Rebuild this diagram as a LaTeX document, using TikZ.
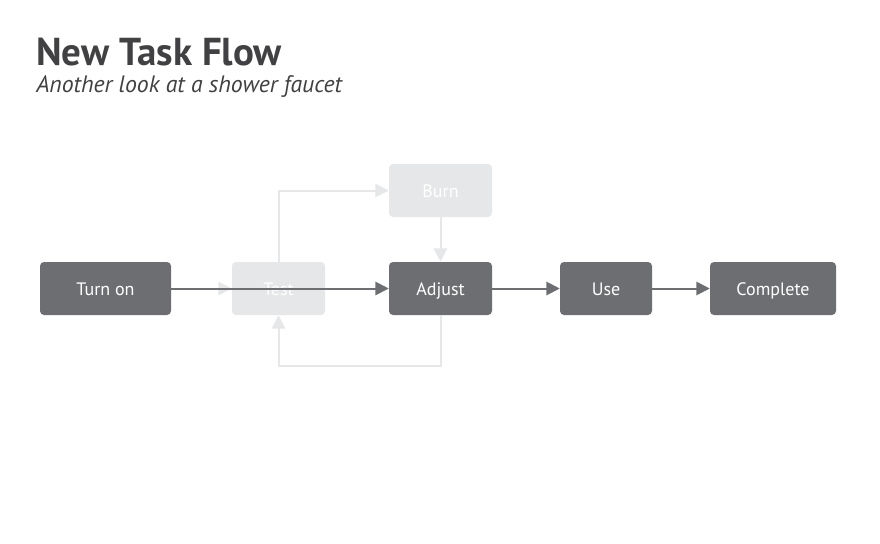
\documentclass[tikz,border=0pt]{standalone}
\usepackage{fontspec}
\setmainfont{PT Sans}
\usetikzlibrary{arrows.meta}
\definecolor{boxdark}{HTML}{6D6E71}
\definecolor{boxlight}{HTML}{E6E7E8}
\definecolor{titlegray}{HTML}{414042}

\begin{document}
\begin{tikzpicture}[x=0.75pt,y=-0.75pt,
	box/.style={rounded corners=3pt, minimum height=39.75pt, inner sep=0pt, text height=11.5pt, text depth=1.75pt, text=white, font=\fontsize{13.5}{16}\selectfont},
	dark/.style={box, fill=boxdark},
	light/.style={box, fill=boxlight},
	darkline/.style={line width=1.5pt, boxdark, -{Triangle[length=10pt,width=10pt]}},
	lightline/.style={line width=1.5pt, boxlight, -{Triangle[length=10pt,width=10pt]}}]
	\useasboundingbox (0,0) rectangle (880,543);
	% heading
	\node[anchor=base west, inner sep=0pt, text=titlegray] (title) at (36,65)
		{\fontsize{29.2}{33}\selectfont\bfseries New Task Flow};
	\node[anchor=base west, inner sep=0pt, text=titlegray] (subtitle) at (36,92)
		{\fontsize{17.8}{21}\selectfont\itshape Another look at a shower faucet};
	% the faded loop
	\node[light, minimum width=69.75pt] (test) at (278.5,288.5) {Test};
	\node[light, minimum width=77.25pt] (burn) at (440.5,190.5) {Burn};
	\coordinate (lower) at (440.5,366);
	\coordinate (lowerleft) at (278.5,366);
	% the steps
	\node[dark, minimum width=98.25pt] (turnon) at (105.5,288.5) {Turn on};
	\node[dark, minimum width=77.25pt] (adjust) at (440.5,288.5) {Adjust};
	\node[dark, minimum width=69pt] (use) at (606,288.5) {Use};
	\node[dark, minimum width=94.5pt] (complete) at (773,288.5) {Complete};
	\draw[lightline] (turnon.east) -- (test.west);
	\draw[lightline] (test.north) |- (burn.west);
	\draw[lightline] (burn.south) -- (adjust.north);
	\draw[lightline] (adjust.south) -- (lower) -- (lowerleft) -- (test.south);
	\draw[darkline] (turnon.east) -- (adjust.west);
	\draw[darkline] (adjust.east) -- (use.west);
	\draw[darkline] (use.east) -- (complete.west);
\end{tikzpicture}
\end{document}
